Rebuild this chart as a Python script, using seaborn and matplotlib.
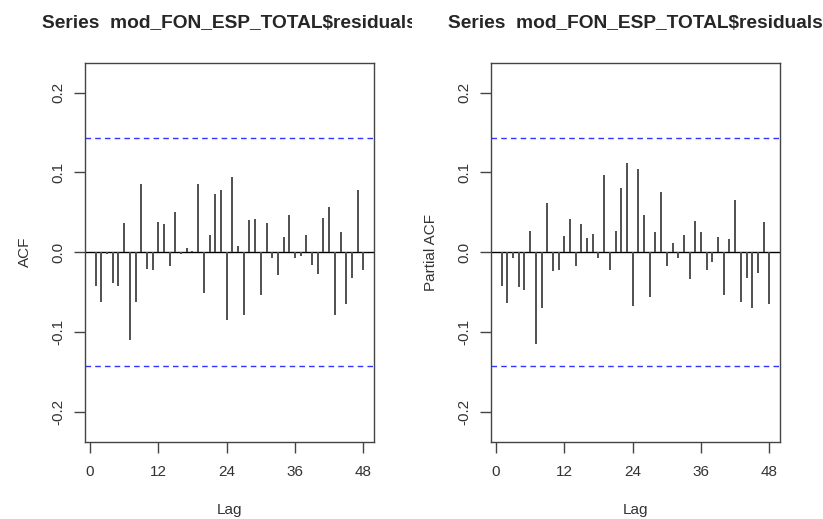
import numpy as np
import matplotlib
matplotlib.use("Agg")
import matplotlib.pyplot as plt
import matplotlib.patches as mpatches
import seaborn as sns

# lags and values
lags = list(range(1, 49))
acf_vals = [-0.043, -0.063, -0.002, -0.039, -0.042, 0.036, -0.110, -0.062, 0.085, -0.021,
            -0.022, 0.038, 0.035, -0.018, 0.050, -0.002, 0.005, 0.002, 0.085, -0.051,
            0.021, 0.073, 0.078, -0.085, 0.094, 0.008, -0.079, 0.040, 0.041, -0.054,
            0.037, -0.008, -0.029, 0.019, 0.046, -0.007, -0.005, 0.022, -0.016, -0.027,
            0.043, 0.056, -0.079, 0.025, -0.065, -0.032, 0.078, -0.022]
pacf_vals = [-0.043, -0.064, -0.007, -0.044, -0.047, 0.027, -0.115, -0.070, 0.062, -0.024,
             -0.023, 0.020, 0.042, -0.017, 0.035, 0.018, 0.023, -0.007, 0.097, -0.023,
             0.027, 0.081, 0.112, -0.068, 0.104, 0.046, -0.056, 0.025, 0.075, -0.017,
             0.011, -0.008, 0.021, -0.034, 0.039, 0.025, -0.022, -0.013, 0.019, -0.054,
             0.016, 0.065, -0.062, -0.033, -0.070, -0.026, 0.038, -0.065]
conf = 0.143
title = "Series  mod_FON_ESP_TOTAL$residuals"
xticks = [0, 12, 24, 36, 48]
yticks = [-0.2, -0.1, 0.0, 0.1, 0.2]

sns.set_style("white")
plt.rcParams['font.family'] = ['Liberation Sans', 'DejaVu Sans']

fig = plt.figure(figsize=(8.23, 5.19), dpi=100)
ax1 = fig.add_axes([85/823, 1-441.5/519, 289/823, 378.8/519])
ax2 = fig.add_axes([491/823, 1-441.5/519, 289/823, 378.8/519])

xlim = (-0.88, 49.88)
panels = [(ax1, acf_vals, "ACF", (0, 0.5)), (ax2, pacf_vals, "Partial ACF", (0.5, 1.0))]
for ax, vals, ylab, (cx0, cx1) in panels:
    # spikes like R's plot.acf (type = "h")
    sns.lineplot(x=list(xlim), y=[0, 0], color="black", lw=1, ax=ax)
    ax.vlines(lags, 0, vals, color="#505050", lw=1.4)
    ax.axhline(conf, color="#3333ff", lw=1, ls=(0, (4, 3)))
    ax.axhline(-conf, color="#3333ff", lw=1, ls=(0, (4, 3)))
    ax.set_xlim(*xlim)
    ax.set_ylim(-0.2376, 0.2376)
    ax.set_xticks(xticks)
    ax.set_xticklabels([str(t) for t in xticks])
    ax.set_yticks(yticks)
    ax.set_yticklabels(["-0.2", "-0.1", "0.0", "0.1", "0.2"], rotation=90, va="center")
    ax.tick_params(axis="both", direction="out", length=8, width=1, color="#444444",
                   labelsize=11, labelcolor="#333333", bottom=True, left=True)
    ax.tick_params(axis="x", pad=9)
    ax.tick_params(axis="y", pad=6)
    for s in ax.spines.values():
        s.set_color("#444444")
        s.set_linewidth(1)
    ax.set_xlabel("Lag", fontsize=11, color="#333333", labelpad=17)
    ax.set_ylabel(ylab, fontsize=11, color="#333333", labelpad=14)
    t = ax.set_title(title, fontsize=13.8, fontweight="bold", pad=25)
    clip = mpatches.Rectangle((cx0, 0), cx1 - cx0, 1, transform=fig.transFigure)
    t.set_clip_path(clip)

fig.savefig("out.png", dpi=100)
